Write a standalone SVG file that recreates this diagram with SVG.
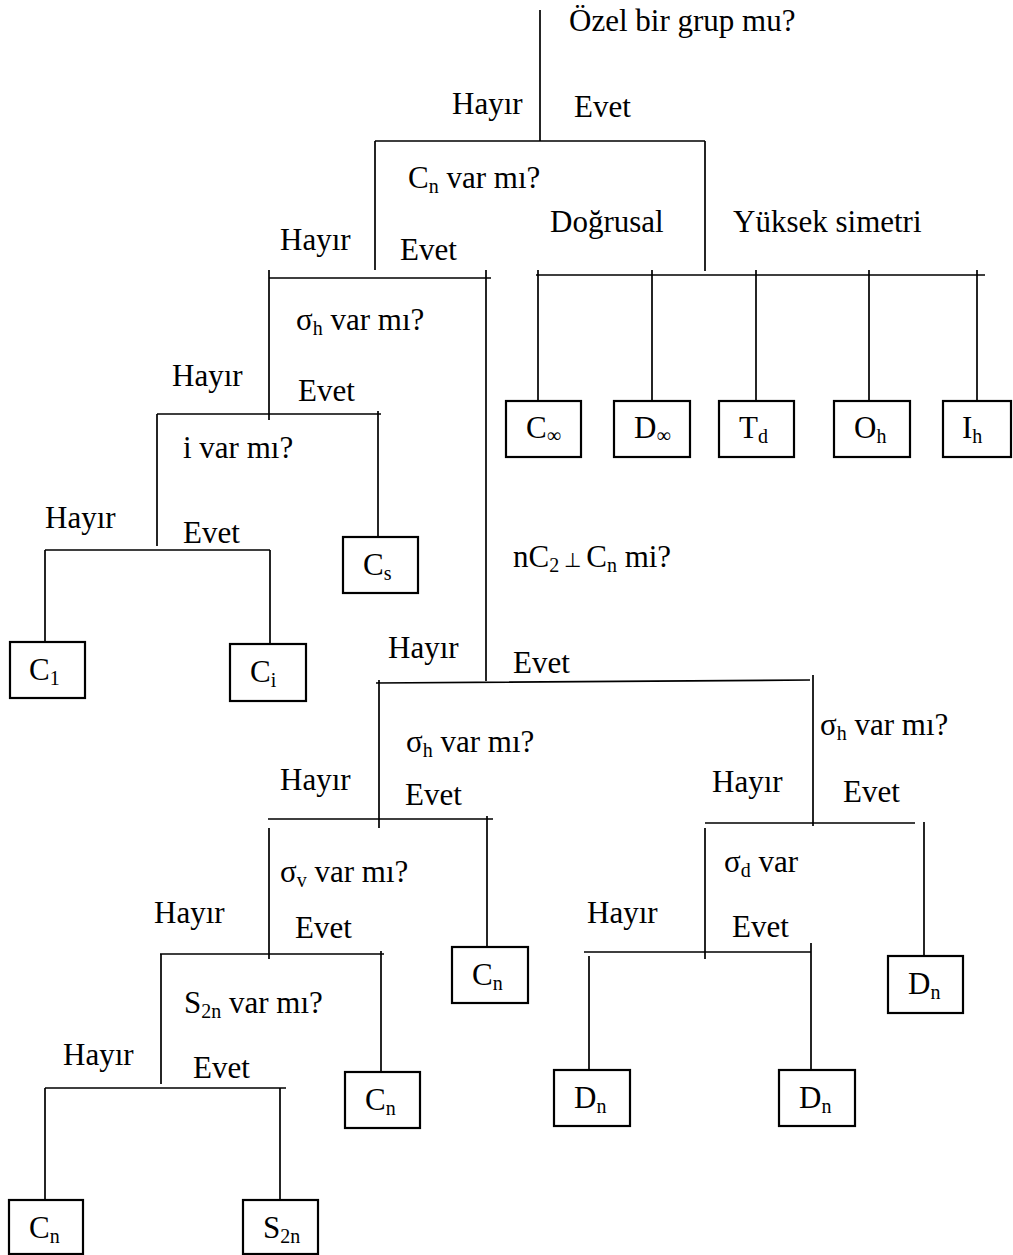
<svg xmlns="http://www.w3.org/2000/svg" width="1013" height="1255" viewBox="0 0 1013 1255">
<style>
text{font-family:"Liberation Serif","Times New Roman",serif;font-size:31px;fill:#000}
.sub{font-size:20px}
.ln{stroke:#000;stroke-width:1.7;fill:none}
.box{stroke:#000;stroke-width:2.2;fill:#fff}
</style>
<rect width="1013" height="1255" fill="#fff"/>
<g id="connectors" class="ln">
<path d="M540 10V141M375 141H705M375 141V270M705 141V271"/>
<path d="M536 275H985M538 270V401M652 270V401M756 270V401M869 270V401M977 270V401"/>
<path d="M269 278H491M269 270V420M486 270V681"/>
<path d="M157 414H381M378 411V537M157 414V546"/>
<path d="M45 550H270M45 550V642M270 550V644"/>
<path d="M376 683L810 680M379 680V828M813 675V826"/>
<path d="M268 819H493M487 816V947M269 828V959"/>
<path d="M705 823H915M924 822V956M705 828V959"/>
<path d="M160 954H384M381 951V1072M161 954V1084"/>
<path d="M584 952H811M811 943V1070M589 956V1070"/>
<path d="M45 1088H286M45 1088V1200M280 1088V1200"/>
</g>
<g id="edge-labels">
<text x="452" y="114">Hayır</text><text x="574" y="117">Evet</text>
<text x="550" y="232">Doğrusal</text><text x="733" y="232">Yüksek simetri</text>
<text x="280" y="250">Hayır</text><text x="400" y="260">Evet</text>
<text x="172" y="386">Hayır</text><text x="298" y="401">Evet</text>
<text x="45" y="528">Hayır</text><text x="183" y="543">Evet</text>
<text x="388" y="658">Hayır</text><text x="513" y="673">Evet</text>
<text x="280" y="790">Hayır</text><text x="405" y="805">Evet</text>
<text x="712" y="792">Hayır</text><text x="843" y="802">Evet</text>
<text x="154" y="923">Hayır</text><text x="295" y="938">Evet</text>
<text x="587" y="923">Hayır</text><text x="732" y="937">Evet</text>
<text x="63" y="1065">Hayır</text><text x="193" y="1078">Evet</text>
</g>
<g id="q-ozel"><text x="569" y="31">Özel bir grup mu?</text></g>
<g id="q-cn"><text x="408" y="188">C<tspan class="sub" dy="5">n</tspan><tspan dy="-5"> var mı?</tspan></text></g>
<g id="q-sigmah1"><text x="296" y="330">σ<tspan class="sub" dy="5">h</tspan><tspan dy="-5"> var mı?</tspan></text></g>
<g id="q-i"><text x="183" y="458">i var mı?</text></g>
<g id="q-nc2"><text x="513" y="567">nC<tspan class="sub" dy="5">2</tspan><tspan class="sub" dy="-5"> ⊥ </tspan>C<tspan class="sub" dy="5">n</tspan><tspan dy="-5"> mi?</tspan></text></g>
<g id="q-sigmah2"><text x="406" y="752">σ<tspan class="sub" dy="5">h</tspan><tspan dy="-5"> var mı?</tspan></text></g>
<g id="q-sigmah3"><text x="820" y="735">σ<tspan class="sub" dy="5">h</tspan><tspan dy="-5"> var mı?</tspan></text></g>
<g id="q-sigmav"><text x="280" y="882">σ<tspan class="sub" dy="5">v</tspan><tspan dy="-5"> var mı?</tspan></text></g>
<g id="q-sigmad"><text x="724" y="872">σ<tspan class="sub" dy="5">d</tspan><tspan dy="-5"> var</tspan></text></g>
<g id="q-s2n"><text x="184" y="1013">S<tspan class="sub" dy="5">2n</tspan><tspan dy="-5"> var mı?</tspan></text></g>
<g id="leaf-cinf"><rect class="box" x="506" y="401" width="75" height="56"/><text x="526" y="438">C<tspan class="sub" dy="4">∞</tspan></text></g>
<g id="leaf-dinf"><rect class="box" x="614" y="401" width="76" height="56"/><text x="634" y="438">D<tspan class="sub" dy="4">∞</tspan></text></g>
<g id="leaf-td"><rect class="box" x="719" y="401" width="75" height="56"/><text x="739" y="438">T<tspan class="sub" dy="5">d</tspan></text></g>
<g id="leaf-oh"><rect class="box" x="834" y="401" width="76" height="56"/><text x="854" y="438">O<tspan class="sub" dy="5">h</tspan></text></g>
<g id="leaf-ih"><rect class="box" x="943" y="401" width="68" height="56"/><text x="962" y="438">I<tspan class="sub" dy="5">h</tspan></text></g>
<g id="leaf-cs"><rect class="box" x="343" y="537" width="75" height="56"/><text x="363" y="575">C<tspan class="sub" dy="5">s</tspan></text></g>
<g id="leaf-c1"><rect class="box" x="10" y="642" width="75" height="56"/><text x="29" y="680">C<tspan class="sub" dy="5">1</tspan></text></g>
<g id="leaf-ci"><rect class="box" x="230" y="644" width="76" height="57"/><text x="250" y="682">C<tspan class="sub" dy="5">i</tspan></text></g>
<g id="leaf-cn1"><rect class="box" x="452" y="947" width="76" height="56"/><text x="472" y="985">C<tspan class="sub" dy="5">n</tspan></text></g>
<g id="leaf-cn2"><rect class="box" x="345" y="1072" width="75" height="56"/><text x="365" y="1110">C<tspan class="sub" dy="5">n</tspan></text></g>
<g id="leaf-dn1"><rect class="box" x="554" y="1070" width="76" height="56"/><text x="574" y="1108">D<tspan class="sub" dy="5">n</tspan></text></g>
<g id="leaf-dn2"><rect class="box" x="779" y="1070" width="76" height="56"/><text x="799" y="1108">D<tspan class="sub" dy="5">n</tspan></text></g>
<g id="leaf-dn3"><rect class="box" x="888" y="956" width="75" height="57"/><text x="908" y="994">D<tspan class="sub" dy="5">n</tspan></text></g>
<g id="leaf-cn3"><rect class="box" x="9" y="1200" width="74" height="54"/><text x="29" y="1238">C<tspan class="sub" dy="5">n</tspan></text></g>
<g id="leaf-s2n"><rect class="box" x="243" y="1200" width="75" height="54"/><text x="263" y="1238">S<tspan class="sub" dy="5">2n</tspan></text></g>
</svg>
